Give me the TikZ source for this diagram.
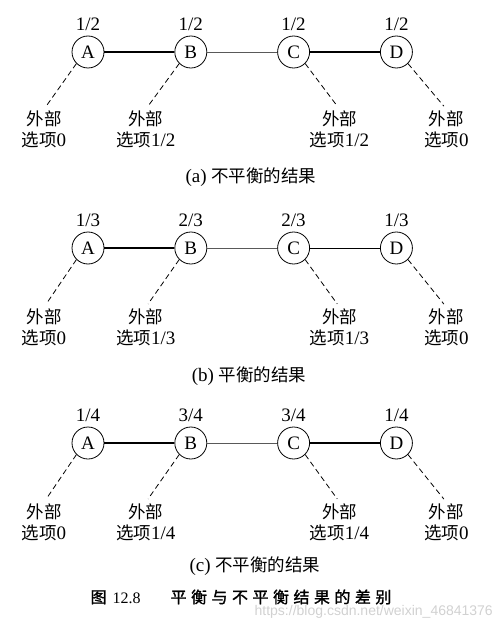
\documentclass[tikz,border=0pt]{standalone}
\usepackage{fontspec}
\setmainfont{Liberation Serif}
\newfontfamily\cjk[Scale=0.92]{Noto Sans CJK SC}
\newfontfamily\cjktitle[LetterSpace=28,FakeBold=1.5]{Noto Sans CJK SC}
\newfontfamily\wmfont{Liberation Sans}
\usetikzlibrary{positioning}

\begin{document}
\begin{tikzpicture}[
  x=1pt, y=-1pt,
  font=\fontsize{19}{21}\selectfont,
  stn/.style={draw, circle, line width=0.8pt, minimum size=32pt, inner sep=0pt},
  ext/.style={align=center, inner sep=1pt},
  link/.style={line width=1.4pt},
  mid/.style={line width=1.0pt},
  weak/.style={line width=0.7pt, draw=black!65},
  opt/.style={dash pattern=on 5.5pt off 3.5pt, line width=0.8pt, shorten >=4pt},
  captxt/.style={inner sep=0pt},
  every label/.style={inner sep=1pt},
  label distance=4pt,
  node distance=70pt,
]
\useasboundingbox (0,0) rectangle (502,631);

% ---------- (a) ----------
\node[stn, label=above:1/2] (aA) at (88,52) {A};
\node[stn, label=above:1/2, right=of aA] (aB) {B};
\node[stn, label=above:1/2, right=of aB] (aC) {C};
\node[stn, label=above:1/2, right=of aC] (aD) {D};
\draw[link] (aA) -- (aB);
\draw[weak] (aB) -- (aC);
\draw[link] (aC) -- (aD);
\node[ext] (aXA) at ([shift={(-44,77)}]aA) {{\cjk 外部}\\{\cjk 选项}0};
\node[ext] (aXB) at ([shift={(-45,77)}]aB) {{\cjk 外部}\\{\cjk 选项}1/2};
\node[ext] (aXC) at ([shift={(46,77)}]aC) {{\cjk 外部}\\{\cjk 选项}1/2};
\node[ext] (aXD) at ([shift={(50,77)}]aD) {{\cjk 外部}\\{\cjk 选项}0};
\foreach \n/\a in {A/225,B/225,C/-45,D/-45} \draw[opt] (a\n.\a) -- (aX\n.north);
\node[captxt] (acap) at (251,177) {(a) {\cjk 不平衡的结果}};

% ---------- (b) ----------
\node[stn, label=above:1/3] (bA) at (88,248) {A};
\node[stn, label=above:2/3, right=of bA] (bB) {B};
\node[stn, label=above:2/3, right=of bB] (bC) {C};
\node[stn, label=above:1/3, right=of bC] (bD) {D};
\draw[link] (bA) -- (bB);
\draw[weak] (bB) -- (bC);
\draw[mid] (bC) -- (bD);
\node[ext] (bXA) at ([shift={(-44,79)}]bA) {{\cjk 外部}\\{\cjk 选项}0};
\node[ext] (bXB) at ([shift={(-45,79)}]bB) {{\cjk 外部}\\{\cjk 选项}1/3};
\node[ext] (bXC) at ([shift={(46,79)}]bC) {{\cjk 外部}\\{\cjk 选项}1/3};
\node[ext] (bXD) at ([shift={(50,79)}]bD) {{\cjk 外部}\\{\cjk 选项}0};
\foreach \n/\a in {A/225,B/225,C/-45,D/-45} \draw[opt] (b\n.\a) -- (bX\n.north);
\node[captxt] (bcap) at (249,376) {(b) {\cjk 平衡的结果}};

% ---------- (c) ----------
\node[stn, label=above:1/4] (cA) at (88,443) {A};
\node[stn, label=above:3/4, right=of cA] (cB) {B};
\node[stn, label=above:3/4, right=of cB] (cC) {C};
\node[stn, label=above:1/4, right=of cC] (cD) {D};
\draw[link] (cA) -- (cB);
\draw[weak] (cB) -- (cC);
\draw[link] (cC) -- (cD);
\node[ext] (cXA) at ([shift={(-44,79)}]cA) {{\cjk 外部}\\{\cjk 选项}0};
\node[ext] (cXB) at ([shift={(-45,79)}]cB) {{\cjk 外部}\\{\cjk 选项}1/4};
\node[ext] (cXC) at ([shift={(46,79)}]cC) {{\cjk 外部}\\{\cjk 选项}1/4};
\node[ext] (cXD) at ([shift={(50,79)}]cD) {{\cjk 外部}\\{\cjk 选项}0};
\foreach \n/\a in {A/225,B/225,C/-45,D/-45} \draw[opt] (c\n.\a) -- (cX\n.north);
\node[captxt] (ccap) at (255,566) {(c) {\cjk 不平衡的结果}};

% figure title and mark
\node[captxt, font=\fontsize{16}{18}\selectfont] (title) at (241,597)
  {{\cjktitle 图}\hspace{6pt}12.8\hspace{30pt}{\cjktitle 平衡与不平衡结果的差别}};
\node[captxt, anchor=east, text=black!18, font=\wmfont\fontsize{14}{16}\selectfont] (mark)
  at (493,612) {https://blog.csdn.net/weixin\_46841376};

\end{tikzpicture}
\end{document}
